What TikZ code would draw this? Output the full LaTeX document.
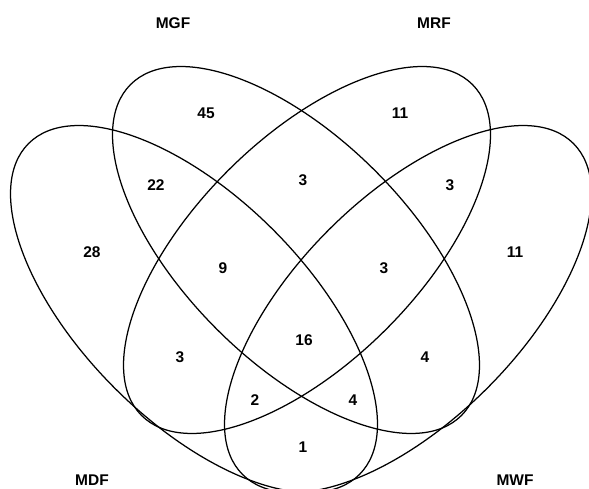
\documentclass[tikz,border=0pt]{standalone}
\usepackage{fontspec}
\setmainfont{Liberation Sans}
\begin{document}
\begin{tikzpicture}[x=1pt,y=1pt,
  setline/.style={line width=1.25pt, draw=black},
  lab/.style={font=\fontsize{15.5}{17}\selectfont\bfseries, inner sep=0pt, text=black}]
\useasboundingbox (0,0) rectangle (589,488);
\begin{scope}
\clip (0,0) rectangle (589,488);
\draw[setline] (194,179) ellipse [x radius=234, y radius=112, rotate=-45];
\draw[setline] (296,238) ellipse [x radius=234, y radius=112, rotate=-45];
\draw[setline] (307,238) ellipse [x radius=234, y radius=112, rotate=45];
\draw[setline] (408,179) ellipse [x radius=234, y radius=112, rotate=45];
\end{scope}
\node[lab] (tMGF) at (173,465) {MGF};
\node[lab] (tMRF) at (434,465) {MRF};
\node[lab] (tMDF) at (92,8) {MDF};
\node[lab] (tMWF) at (515,8) {MWF};
\node[lab] (n45) at (206,375) {45};
\node[lab] (n11a) at (400,375) {11};
\node[lab] (n22) at (156,303) {22};
\node[lab] (n3a) at (303,308) {3};
\node[lab] (n3b) at (450,303) {3};
\node[lab] (n28) at (92,236) {28};
\node[lab] (n11b) at (515,236) {11};
\node[lab] (n9) at (223,220) {9};
\node[lab] (n3c) at (384,220) {3};
\node[lab] (n16) at (304,148) {16};
\node[lab] (n3d) at (180,131) {3};
\node[lab] (n4a) at (425,131) {4};
\node[lab] (n2) at (255,88) {2};
\node[lab] (n4b) at (353,88) {4};
\node[lab] (n1) at (303,41) {1};
\end{tikzpicture}
\end{document}
